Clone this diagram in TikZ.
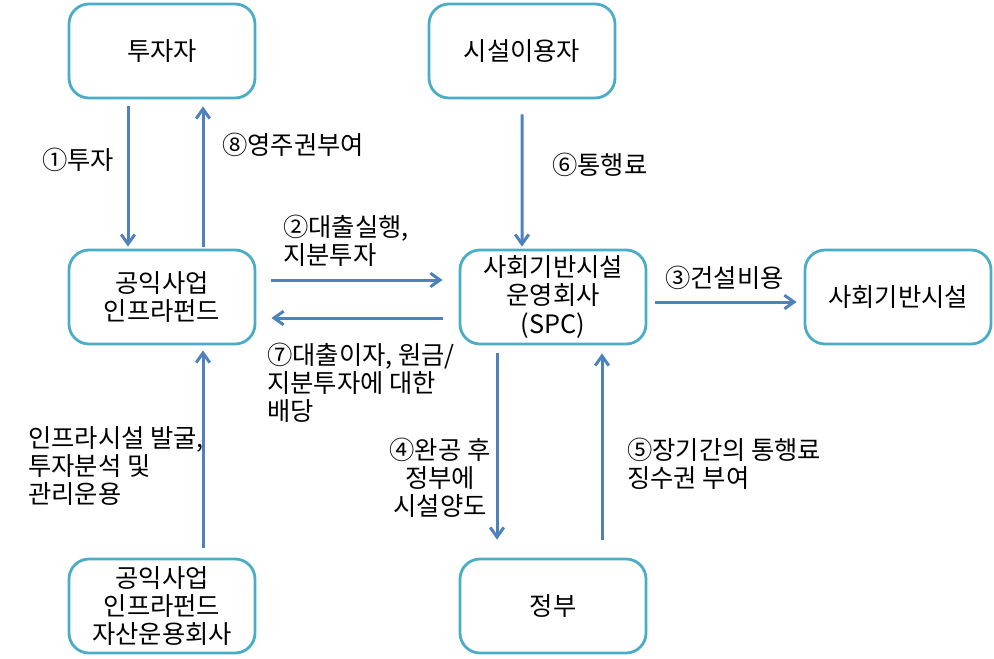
\documentclass[tikz,border=0pt]{standalone}
\usepackage{fontspec}
\setmainfont{Noto Sans CJK KR}
\usetikzlibrary{arrows.meta}
\definecolor{boxline}{RGB}{75,172,198}
\definecolor{flowline}{RGB}{79,129,189}

\begin{document}
\begin{tikzpicture}
    [x=0.25mm,y=-0.25mm,
     party/.style={draw=boxline,line width=0.7mm,rounded corners=5mm,
       minimum width=46.5mm,minimum height=23.5mm,align=center,
       font=\fontsize{18}{20}\selectfont},
     flow/.style={draw=flowline,line width=0.75mm,
       -{Straight Barb[length=2.4mm,width=3.4mm]}},
     note/.style={align=left,anchor=west,inner sep=0pt,
       font=\fontsize{18}{20}\selectfont}]
    \useasboundingbox (0,0) rectangle (994,658);
    \node[party] (inv) at (162,51) {투자자};
    \node[party] (user) at (522,51) {시설이용자};
    \node[party] (fund) at (162,297) {공익사업\\인프라펀드};
    \node[party] (spc) at (553,297) {사회기반시설\\운영회사\\(SPC)};
    \node[party] (fac) at (898,297) {사회기반시설};
    \node[party] (amc) at (162,606) {공익사업\\인프라펀드\\자산운용회사};
    \node[party] (gov) at (553,606) {정부};
    \draw[flow] ([xshift=-8.5mm,yshift=-1.75mm]inv.south)
      -- ([xshift=-8.5mm,yshift=0.5mm]fund.north);
    \draw[flow] ([xshift=10.25mm,yshift=0.5mm]fund.north)
      -- ([xshift=10.25mm,yshift=-1.75mm]inv.south);
    \draw[flow] ([yshift=-3.75mm]user.south)
      -- ([xshift=-7.75mm,yshift=0.5mm]spc.north);
    \draw[flow] ([xshift=3.75mm,yshift=4.25mm]fund.east)
      -- ([xshift=-4mm,yshift=4.25mm]spc.west);
    \draw[flow] ([xshift=-4mm,yshift=-5.25mm]spc.west)
      -- ([xshift=3.75mm,yshift=-5.25mm]fund.east);
    \draw[flow] ([xshift=2mm,yshift=-1.25mm]spc.east)
      -- ([xshift=-1.75mm,yshift=-1.25mm]fac.west);
    \draw[flow] ([xshift=-14mm,yshift=-2mm]spc.south)
      -- ([xshift=-14mm,yshift=4.5mm]gov.north);
    \draw[flow] ([xshift=12.25mm,yshift=4.5mm]gov.north)
      -- ([xshift=12.25mm,yshift=-2mm]spc.south);
    \draw[flow] ([xshift=10.25mm,yshift=2.5mm]amc.north)
      -- ([xshift=10.25mm,yshift=-1.25mm]fund.south);
    \node[note] (invest) at (42,160) {①투자};
    \node[note] (grant) at (222,145) {⑧영주권부여};
    \node[note] (loan) at (283,241) {②대출실행,\\지분투자};
    \node[note] (repay) at (267,383) {⑦대출이자, 원금/\\지분투자에 대한\\배당};
    \node[note] (cost) at (665,278) {③건설비용};
    \node[note] (toll) at (552,165) {⑥통행료};
    \node[note,align=center,anchor=center] (transfer) at (440,478) {④완공 후\\정부에\\시설양도};
    \node[note] (right) at (627,464) {⑤장기간의 통행료\\징수권 부여};
    \node[note] (manage) at (28,466) {인프라시설 발굴,\\투자분석 및\\관리운용};
  \end{tikzpicture}
\end{document}
